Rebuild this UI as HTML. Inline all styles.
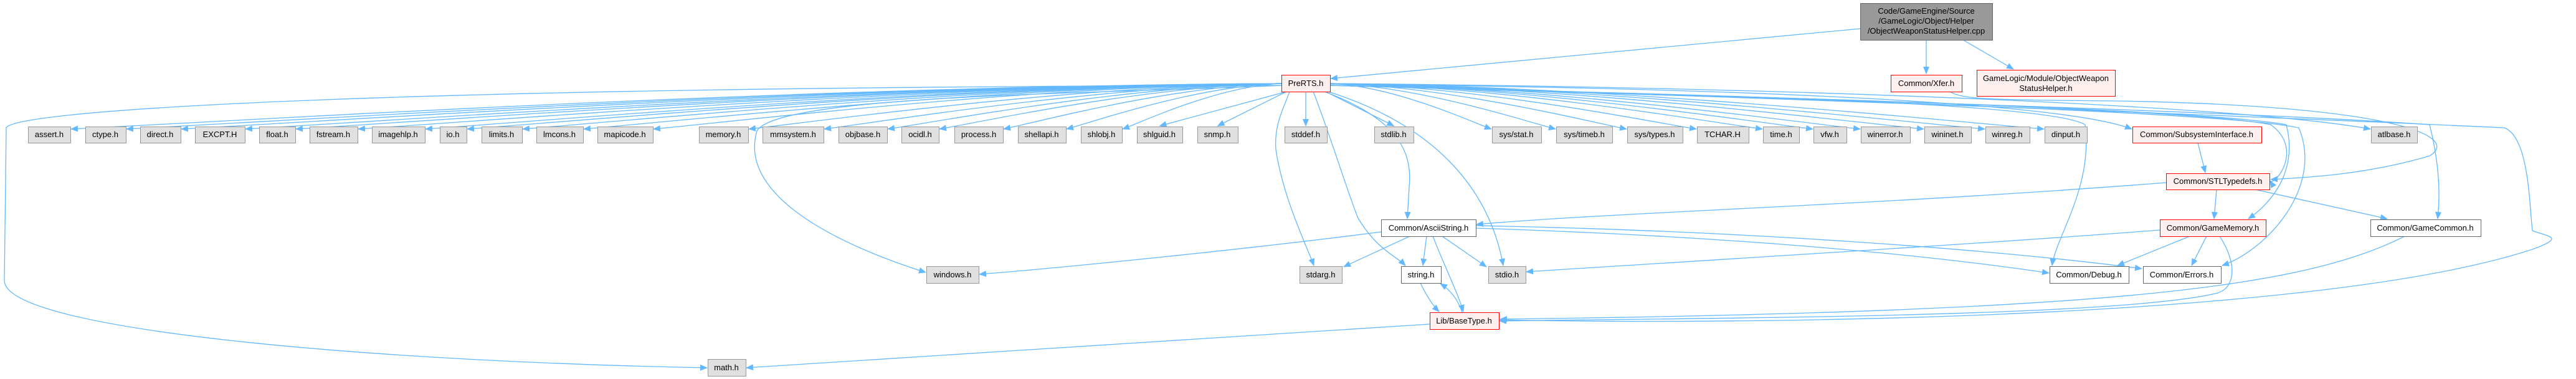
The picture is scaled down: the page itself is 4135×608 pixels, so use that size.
<!DOCTYPE html>
<html><head><meta charset="utf-8"><style>
html,body{margin:0;padding:0;background:#fff}
svg{display:block}
text{font-family:"Liberation Sans",Arial,sans-serif;font-size:13px;fill:#000}
</style></head><body>
<svg id="s" width="4135" height="608" xmlns="http://www.w3.org/2000/svg">
<defs><marker id="a" markerWidth="12" markerHeight="10" refX="11" refY="5" orient="auto" markerUnits="userSpaceOnUse"><path d="M0,0 L12,5 L0,10 z" fill="#63b8ff"/></marker></defs>
<g id="edges" fill="none" stroke="#63b8ff" stroke-width="1.3"></g>
<g id="nodes" text-anchor="middle"></g>
<g text-anchor="middle" id="labels">
<text x="3092" y="22">Code/GameEngine/Source</text>
<text x="3092" y="38">/GameLogic/Object/Helper</text>
<text x="3092" y="54">/ObjectWeaponStatusHelper.cpp</text>
<text x="2096" y="138">PreRTS.h</text>
<text x="3092" y="138">Common/Xfer.h</text>
<text x="3284" y="130">GameLogic/Module/ObjectWeapon</text>
<text x="3284" y="146">StatusHelper.h</text>
<text x="79" y="220">assert.h</text>
<text x="169" y="220">ctype.h</text>
<text x="257" y="220">direct.h</text>
<text x="353" y="220">EXCPT.H</text>
<text x="445" y="220">float.h</text>
<text x="535" y="220">fstream.h</text>
<text x="639" y="220">imagehlp.h</text>
<text x="727" y="220">io.h</text>
<text x="805" y="220">limits.h</text>
<text x="898" y="220">lmcons.h</text>
<text x="1003" y="220">mapicode.h</text>
<text x="1161" y="220">memory.h</text>
<text x="1273" y="220">mmsystem.h</text>
<text x="1385" y="220">objbase.h</text>
<text x="1477" y="220">ocidl.h</text>
<text x="1571" y="220">process.h</text>
<text x="1672" y="220">shellapi.h</text>
<text x="1768" y="220">shlobj.h</text>
<text x="1861" y="220">shlguid.h</text>
<text x="1954" y="220">snmp.h</text>
<text x="2096" y="220">stddef.h</text>
<text x="2237" y="220">stdlib.h</text>
<text x="2434" y="220">sys/stat.h</text>
<text x="2543" y="220">sys/timeb.h</text>
<text x="2656" y="220">sys/types.h</text>
<text x="2765" y="220">TCHAR.H</text>
<text x="2859" y="220">time.h</text>
<text x="2937" y="220">vfw.h</text>
<text x="3026" y="220">winerror.h</text>
<text x="3126" y="220">wininet.h</text>
<text x="3222" y="220">winreg.h</text>
<text x="3316" y="220">dinput.h</text>
<text x="3526" y="220">Common/SubsystemInterface.h</text>
<text x="3843" y="220">atlbase.h</text>
<text x="3560" y="295">Common/STLTypedefs.h</text>
<text x="2293" y="370">Common/AsciiString.h</text>
<text x="3552" y="370">Common/GameMemory.h</text>
<text x="3893" y="370">Common/GameCommon.h</text>
<text x="1529" y="445">windows.h</text>
<text x="2120" y="445">stdarg.h</text>
<text x="2281" y="445">string.h</text>
<text x="2419" y="445">stdio.h</text>
<text x="3353" y="445">Common/Debug.h</text>
<text x="3502" y="445">Common/Errors.h</text>
<text x="2350" y="519">Lib/BaseType.h</text>
<text x="1166" y="594">math.h</text>
</g>
</svg>
<script>
var NS="http://www.w3.org/2000/svg";
function rect(x1,y1,x2,y2,t){var r=document.createElementNS(NS,"rect");r.setAttribute("x",x1+.5);r.setAttribute("y",y1+.5);r.setAttribute("width",x2-x1);r.setAttribute("height",y2-y1);
var f={g:["#e0e0e0","#999999"],w:["#ffffff","#666666"],r:["#fff0f0","#ff0000"],k:["#999999","#666666"]}[t];r.setAttribute("fill",f[0]);r.setAttribute("stroke",f[1]);document.getElementById("nodes").appendChild(r);}
function e(d){var p=document.createElementNS(NS,"path");p.setAttribute("d",d);p.setAttribute("marker-end","url(#a)");document.getElementById("edges").appendChild(p);}
rect(2986,5,3198,64,"k");rect(2057,120,2135,147,"r");rect(3035,120,3149,147,"r");rect(3173,112,3395,154,"r");
var row=[[45,113],[137,202],[225,290],[313,393],[416,474],[497,574],[597,682],[706,749],[773,838],[861,936],[959,1048],[1122,1201],[1224,1322],[1346,1424],[1447,1507],[1532,1610],[1634,1711],[1735,1801],[1825,1898],[1922,1987],[2062,2130],[2206,2269],[2395,2474],[2498,2588],[2612,2701],[2724,2807],[2830,2888],[2911,2964],[2987,3066],[3089,3164],[3187,3258],[3282,3350]];
row.forEach(function(r){rect(r[0],203,r[1],229,"g");var c=(r[0]+r[1])/2;
if(c<1800){var x=r[1]+1,y=207;e("M2057,134 C"+(2057-(2057-x)*0.4)+",138 "+(x+(2057-x)*0.12)+",196 "+x+","+y);}
else if(c<2300){var sx=Math.max(2065,Math.min(2128,2096+(c-2096)*0.3));e("M"+sx+",147 L"+c+",202");}
else{var x=r[0]-1,y=207;e("M2135,134 C"+(2135+(x-2135)*0.4)+",138 "+(x-(x-2135)*0.12)+",196 "+x+","+y);}});
rect(3423,203,3630,229,"r");rect(3806,203,3880,229,"g");rect(3477,278,3643,304,"r");
rect(2217,352,2369,379,"w");rect(3467,352,3637,379,"r");rect(3805,352,3982,379,"w");
rect(1487,427,1571,454,"g");rect(2086,427,2154,454,"g");rect(2249,427,2313,454,"w");rect(2389,427,2449,454,"g");rect(3290,427,3417,454,"w");rect(3440,427,3565,454,"w");
rect(2295,501,2406,528,"r");rect(1136,576,1197,603,"g");
e("M2986,46 L2136,126");e("M3092,64 L3092,118");e("M3151,64 L3232,111");
e("M2135,135 C2700,140 3300,160 3422,207");
e("M2135,134 C2900,140 3600,170 3805,207");
e("M2057,137 C1800,150 1250,150 1215,210 C1180,330 1400,410 1486,437");
e("M2057,137 C500,140 20,180 10,205 L7,450 C7,530 600,580 1135,590");
e("M2070,147 C2060,175 2045,200 2048,240 C2060,320 2100,400 2109,426");
e("M2108,147 C2140,230 2160,300 2180,350 C2210,400 2240,410 2256,426");
e("M2126,147 C2240,190 2268,240 2262,300 L2259,351");
e("M2132,147 C2300,200 2390,300 2413,426");
e("M2135,137 C2600,150 3280,160 3347,200 C3360,300 3300,380 3294,426");
e("M2135,137 C2600,150 3500,170 3645,200 C3700,240 3650,300 3644,290");
e("M2135,137 C2600,150 3500,170 3670,200 C3690,280 3640,330 3609,351");
e("M2135,137 C2600,150 3550,175 3690,205 C3730,300 3640,400 3567,426");
e("M2135,137 C2600,150 3550,175 3900,200 C3920,280 3915,330 3913,351");
e("M2135,137 C2700,150 3700,190 4020,205 C4060,220 4060,330 4065,370 C4090,380 4120,380 4065,400 C3700,520 2700,520 2407,513");
e("M3130,147 C3150,160 3200,160 3400,162 C3850,170 3950,220 3900,250 C3800,280 3700,285 3645,288");
e("M3528,229 L3540,277");
e("M3477,293 C3000,330 2600,340 2370,360");
e("M3558,304 L3554,351");
e("M3620,304 L3832,351");
e("M2217,372 C2000,400 1700,430 1572,440");
e("M2263,379 L2157,428");e("M2290,379 L2284,426");
e("M2315,379 L2386,428");
e("M2300,379 C2320,430 2340,470 2349,500");
e("M2369,366 C2800,380 3100,410 3289,438");
e("M2369,362 C2800,370 3200,400 3438,431");
e("M3467,369 C3200,390 2700,420 2450,436");
e("M3515,379 L3399,426");e("M3542,379 L3518,426");
e("M3563,379 C3590,420 3590,460 3560,470 C3400,510 2700,510 2407,515");
e("M3860,379 C3700,460 3400,500 2408,512");
e("M2280,454 C2290,475 2300,490 2310,500");
e("M2347,501 C2340,480 2328,465 2312,455");
e("M2295,520 L1198,590");
</script>
</body></html>
